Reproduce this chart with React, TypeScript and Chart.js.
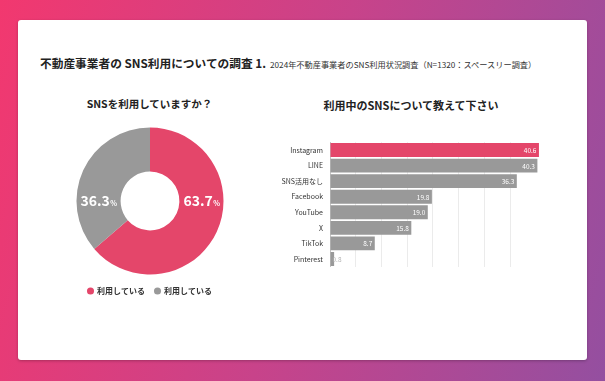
import React, { useEffect, useRef } from "react";
import { Chart, registerables } from "chart.js";

Chart.register(...registerables);

const FONT = "'Noto Sans CJK JP', 'Noto Sans', sans-serif";
Chart.defaults.font.family = FONT;

// Doughnut data
const pieLabels = ["利用している", "利用している"];
const pieValues = [63.7, 36.3];

// Bar data
const snsCategories = ["Instagram", "LINE", "SNS活用なし", "Facebook", "YouTube", "X", "TikTok", "Pinterest"];
const snsValues = [40.6, 40.3, 36.3, 19.8, 19.0, 15.8, 8.7, 0.8];

const RED = "#E4466A";
const GREY = "#999999";

const pieLabelPlugin = {
  id: "pieLabels",
  afterDatasetsDraw(chart: any) {
    const meta = chart.getDatasetMeta(0);
    const arc = meta.data[0];
    if (!arc) return;
    const { x, y, innerRadius, outerRadius } = arc.getProps(["x", "y", "innerRadius", "outerRadius"], true);
    const midR = (innerRadius + outerRadius) / 2;
    const ctx = chart.ctx;
    const vals = chart.data.datasets[0].data as number[];
    const positions = [x + midR, x - midR];
    ctx.save();
    ctx.fillStyle = "#ffffff";
    ctx.textBaseline = "alphabetic";
    ctx.textAlign = "left";
    vals.forEach((v, i) => {
      const num = v.toFixed(1);
      ctx.font = `bold 14px ${FONT}`;
      const w1 = ctx.measureText(num).width;
      ctx.font = `bold 7px ${FONT}`;
      const w2 = ctx.measureText("%").width;
      const start = positions[i] - (w1 + w2) / 2;
      const base = y + 5;
      ctx.font = `bold 14px ${FONT}`;
      ctx.fillText(num, start, base);
      ctx.font = `bold 7px ${FONT}`;
      ctx.fillText("%", start + w1 + 0.5, base);
    });
    ctx.restore();
  },
};

const barLabelPlugin = {
  id: "barLabels",
  afterDatasetsDraw(chart: any) {
    const meta = chart.getDatasetMeta(0);
    const ctx = chart.ctx;
    const vals = chart.data.datasets[0].data as number[];
    ctx.save();
    ctx.font = `6.5px ${FONT}`;
    ctx.textBaseline = "middle";
    meta.data.forEach((bar: any, i: number) => {
      const { x, y, base } = bar.getProps(["x", "y", "base"], true);
      const txt = vals[i].toFixed(1);
      const tw = ctx.measureText(txt).width;
      if (x - base > tw + 6) {
        ctx.fillStyle = "#ffffff";
        ctx.textAlign = "right";
        ctx.fillText(txt, x - 2.5, y + 0.5);
      } else {
        ctx.fillStyle = "#b5b5b5";
        ctx.textAlign = "left";
        ctx.fillText(txt, base + 2, y + 0.5);
      }
    });
    ctx.restore();
  },
};

function DoughnutChart() {
  const ref = useRef<HTMLCanvasElement>(null);
  useEffect(() => {
    const chart = new Chart(ref.current!, {
      type: "doughnut",
      data: {
        labels: pieLabels,
        datasets: [
          {
            data: pieValues,
            backgroundColor: [RED, GREY],
            borderWidth: 0,
          },
        ],
      },
      options: {
        animation: false,
        responsive: false,
        cutout: "40%",
        radius: 73.5,
        layout: { padding: 0 },
        plugins: {
          tooltip: { enabled: false },
          legend: {
            position: "bottom",
            labels: {
              usePointStyle: true,
              pointStyle: "circle",
              boxWidth: 5,
              boxHeight: 5,
              padding: 10,
              color: "#333333",
              font: { size: 8, weight: "bold", family: FONT },
            },
          },
        },
      } as any,
      plugins: [pieLabelPlugin],
    });
    return () => chart.destroy();
  }, []);
  return <canvas ref={ref} width={200} height={180} />;
}

function BarChart() {
  const ref = useRef<HTMLCanvasElement>(null);
  useEffect(() => {
    const chart = new Chart(ref.current!, {
      type: "bar",
      data: {
        labels: snsCategories,
        datasets: [
          {
            data: snsValues,
            backgroundColor: snsValues.map((_, i) => (i === 0 ? RED : GREY)),
            borderWidth: 0,
            barPercentage: 0.89,
            categoryPercentage: 1,
          },
        ],
      },
      options: {
        animation: false,
        responsive: false,
        indexAxis: "y",
        layout: { padding: 0 },
        plugins: { legend: { display: false }, tooltip: { enabled: false } },
        scales: {
          x: {
            min: 0,
            max: 41,
            ticks: { display: false, stepSize: 5 },
            afterBuildTicks: (scale: any) => {
              scale.ticks = scale.ticks.filter((t: any) => t.value % 5 === 0);
            },
            grid: { color: "#ebebeb", drawTicks: false, lineWidth: 1 },
            border: { display: false },
          },
          y: {
            afterFit: (scale: any) => {
              scale.width = 60;
            },
            ticks: { color: "#333333", padding: 7, font: { size: 7, family: FONT } },
            grid: { display: false, drawTicks: false },
            border: { display: true, color: "#c4c4c4" },
          },
        },
      } as any,
      plugins: [barLabelPlugin],
    });
    return () => chart.destroy();
  }, []);
  return <canvas ref={ref} width={271} height={147} />;
}

export default function App() {
  return (
    <div
      style={{
        position: "fixed",
        left: 0,
        top: 0,
        width: 605,
        height: 381,
        overflow: "hidden",
        background: "linear-gradient(105deg, #f2386f 0%, #c8438a 50%, #944fa0 100%)",
        fontFamily: FONT,
      }}
    >
      <div
        style={{
          position: "absolute",
          left: 18,
          top: 20,
          width: 569,
          height: 340,
          background: "#ffffff",
          borderRadius: 3,
          boxShadow: "0 1px 3px rgba(0,0,0,0.25)",
        }}
      />
      <div
        style={{
          position: "absolute",
          left: 40,
          top: 55,
          display: "flex",
          alignItems: "baseline",
          whiteSpace: "nowrap",
          lineHeight: "16px",
        }}
      >
        <span style={{ fontSize: 11.7, fontWeight: 700, color: "#222" }}>不動産事業者の SNS利用についての調査 1.</span>
        <span style={{ fontSize: 8.2, color: "#333", marginLeft: 4 }}>
          2024年不動産事業者のSNS利用状況調査（N=1320：スペースリー調査）
        </span>
      </div>
      <div
        style={{
          position: "absolute",
          left: 49.5,
          width: 200,
          top: 96,
          lineHeight: "16px",
          textAlign: "center",
          fontSize: 10.5,
          fontWeight: 700,
          color: "#222",
          whiteSpace: "nowrap",
        }}
      >
        SNSを利用していますか？
      </div>
      <div
        style={{
          position: "absolute",
          left: 311,
          width: 200,
          top: 97,
          lineHeight: "16px",
          textAlign: "center",
          fontSize: 11,
          fontWeight: 700,
          color: "#222",
          whiteSpace: "nowrap",
        }}
      >
        利用中のSNSについて教えて下さい
      </div>
      <div style={{ position: "absolute", left: 50, top: 125, width: 200, height: 180 }}>
        <DoughnutChart />
      </div>
      <div style={{ position: "absolute", left: 270, top: 130.5, width: 271, height: 147 }}>
        <BarChart />
      </div>
    </div>
  );
}
